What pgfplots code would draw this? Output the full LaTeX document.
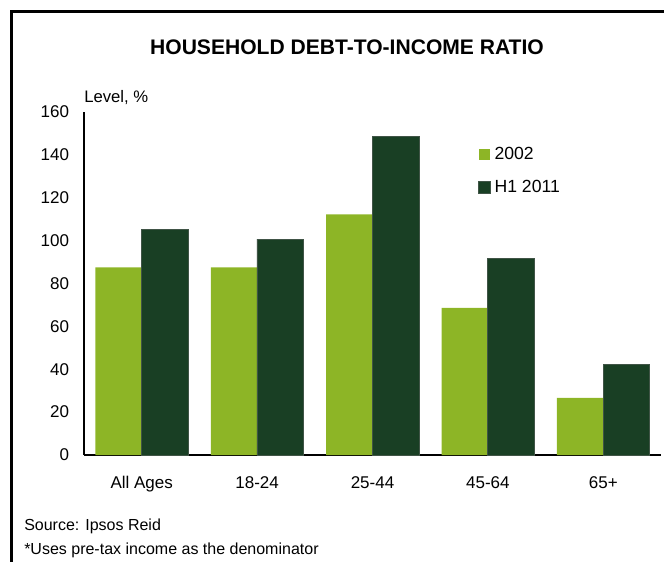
\documentclass[border=0pt]{standalone}
\usepackage{pgfplots}
\pgfplotsset{compat=1.18}
\usepackage{fontspec}
\setmainfont{Liberation Sans}
\definecolor{lgreen}{HTML}{8DB526}
\definecolor{dgreen}{HTML}{193F24}
\begin{document}
\begin{tikzpicture}
\useasboundingbox (0,0) rectangle (498pt,420.75pt);
\draw[line width=1.8pt] (8.5pt,-5pt) -- (8.5pt,412pt) -- (510pt,412pt);
\node[anchor=base, font=\bfseries\fontsize{15.8}{18}\selectfont, inner sep=0pt] at (260.25pt,379.5pt) {HOUSEHOLD DEBT-TO-INCOME RATIO};
\node[anchor=base west, font=\fontsize{12.5}{15}\selectfont, inner sep=0pt] at (63pt,343.5pt) {Level, \%};
\node[anchor=base west, font=\fontsize{12}{14}\selectfont, inner sep=0pt] at (18pt,23.25pt) {Source: Ipsos Reid};
\node[anchor=base west, font=\fontsize{12}{14}\selectfont, inner sep=0pt] at (18pt,5.25pt) {*Uses pre-tax income as the denominator};
\begin{axis}[
  at={(63pt,79.5pt)}, anchor=south west,
  scale only axis, width=432.75pt, height=257.25pt,
  xmin=-0.5, xmax=4.5, ymin=0, ymax=160,
  axis x line=bottom, axis y line=left,
  axis line style={line width=1.6pt, -},
  xtick={0,1,2,3,4},
  xticklabels={All Ages,18-24,25-44,45-64,65+},
  ytick={0,20,...,160},
  major tick length=0pt,
  /pgf/number format/assume math mode=true,
  tick label style={font=\fontsize{12.75}{15}\selectfont},
  yticklabel style={inner sep=0pt, anchor=east, xshift=-11pt},
  xticklabel style={inner sep=0pt, anchor=north, yshift=-16pt},
  ybar, bar width=0.403,
  legend style={at={(0.683,0.904)}, anchor=north west, draw=none, fill=none,
    inner sep=0pt, row sep=11pt, font=\fontsize{13.2}{15}\selectfont,
    nodes={inner sep=1.5pt, inner xsep=3pt}},
  legend cell align=left,
  legend image code/.code={\fill[#1] (0pt,-4.3pt) rectangle (8.8pt,4.3pt);},
]
\addplot[fill=lgreen, draw=none, bar shift=-0.2] coordinates {(0,87.5) (1,87.5) (2,112.3) (3,68.6) (4,26.6)};
\addplot[fill=dgreen, draw=black!35!dgreen!80!white, line width=0.4pt, bar shift=0.2] coordinates {(0,105.1) (1,100.7) (2,148.6) (3,91.7) (4,42.4)};
\legend{2002,H1 2011}
\end{axis}
\end{tikzpicture}
\end{document}
